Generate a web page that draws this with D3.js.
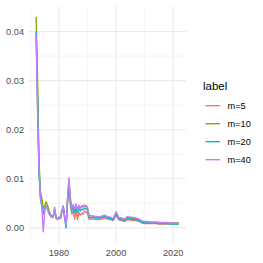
<!DOCTYPE html>
<html>
<head>
<meta charset="utf-8">
<script src="https://cdn.jsdelivr.net/npm/d3@7"></script>
<style>
body { margin: 0; background: #fff; }
text { font-family: "Liberation Sans", Arial, sans-serif; }
</style>
</head>
<body>
<div id="chart"></div>
<script>
var times = [1972.0, 1972.5, 1973.0, 1973.5, 1974.0, 1974.5, 1975.0, 1975.5, 1976.0, 1976.5,
    1977.0, 1977.5, 1978.0, 1978.5, 1979.0, 1979.5, 1980.0, 1980.5, 1981.0, 1981.5,
    1982.0, 1982.5, 1983.0, 1983.5, 1984.0, 1984.5, 1985.0, 1985.5, 1986.0, 1986.5,
    1987.0, 1987.5, 1988.0, 1988.5, 1989.0, 1989.5, 1990.0, 1990.5,
    1991, 1992, 1993, 1994, 1995, 1996, 1997, 1998, 1999, 2000, 2001, 2002, 2003, 2004,
    2005, 2006, 2007, 2008, 2009, 2010, 2011, 2012, 2013, 2014, 2015, 2016, 2017, 2018,
    2019, 2020, 2021, 2022];

var m5 = [0.0398, 0.0250, 0.0120, 0.0065, 0.0045, 0.0030, 0.0038, 0.0045, 0.0038, 0.0030,
    0.0025, 0.0022, 0.0023, 0.0035, 0.0020, 0.0018, 0.0021, 0.0019, 0.0032, 0.0042,
    0.0021, 0.0006, 0.0050, 0.0085, 0.0045, 0.0028, 0.0034, 0.0018, 0.0035, 0.0017,
    0.0032, 0.0026, 0.0030, 0.0028, 0.0034, 0.0032, 0.0030, 0.0018,
    0.0018, 0.0018, 0.0017, 0.0017, 0.0018, 0.0020, 0.0018, 0.0017, 0.0015, 0.0026,
    0.0016, 0.0015, 0.0013, 0.0017, 0.0016, 0.0015, 0.0015, 0.0013, 0.0010, 0.0009,
    0.0009, 0.0009, 0.0009, 0.0009, 0.0008, 0.0008, 0.0008, 0.0008, 0.0008, 0.0008,
    0.0008, 0.0008];
var m10 = [0.0430, 0.0300, 0.0137, 0.0075, 0.0060, 0.0040, 0.0045, 0.0053, 0.0046, 0.0036,
    0.0028, 0.0024, 0.0024, 0.0038, 0.0021, 0.0019, 0.0022, 0.0020, 0.0034, 0.0044,
    0.0022, 0.0004, 0.0058, 0.0098, 0.0058, 0.0040, 0.0045, 0.0036, 0.0046, 0.0036,
    0.0044, 0.0040, 0.0045, 0.0044, 0.0046, 0.0045, 0.0042, 0.0026,
    0.0025, 0.0024, 0.0023, 0.0022, 0.0023, 0.0025, 0.0022, 0.0021, 0.0018, 0.0031,
    0.0020, 0.0019, 0.0017, 0.0021, 0.0020, 0.0019, 0.0019, 0.0017, 0.0013, 0.0012,
    0.0012, 0.0011, 0.0011, 0.0011, 0.0011, 0.0010, 0.0010, 0.0010, 0.0010, 0.0010,
    0.0010, 0.0010];
var m20 = [0.0400, 0.0270, 0.0110, 0.0060, 0.0045, 0.0028, 0.0036, 0.0045, 0.0038, 0.0030,
    0.0025, 0.0021, 0.0022, 0.0036, 0.0019, 0.0017, 0.0020, 0.0019, 0.0033, 0.0043,
    0.0020, 0.0000, 0.0055, 0.0090, 0.0052, 0.0035, 0.0040, 0.0030, 0.0041, 0.0031,
    0.0039, 0.0035, 0.0038, 0.0037, 0.0040, 0.0039, 0.0036, 0.0022,
    0.0021, 0.0021, 0.0020, 0.0020, 0.0021, 0.0023, 0.0020, 0.0019, 0.0016, 0.0028,
    0.0018, 0.0017, 0.0015, 0.0019, 0.0018, 0.0017, 0.0017, 0.0015, 0.0011, 0.0010,
    0.0010, 0.0010, 0.0010, 0.0010, 0.0009, 0.0009, 0.0009, 0.0009, 0.0008, 0.0008,
    0.0008, 0.0008];
var m40 = [0.0397, 0.0240, 0.0120, 0.0065, 0.0042, -0.0008, 0.0035, 0.0045, 0.0038, 0.0030,
    0.0025, 0.0022, 0.0024, 0.0042, 0.0020, 0.0018, 0.0022, 0.0020, 0.0035, 0.0045,
    0.0022, 0.0005, 0.0060, 0.0102, 0.0060, 0.0040, 0.0048, 0.0038, 0.0049, 0.0036,
    0.0046, 0.0040, 0.0044, 0.0042, 0.0045, 0.0044, 0.0040, 0.0026,
    0.0025, 0.0024, 0.0023, 0.0023, 0.0024, 0.0026, 0.0023, 0.0022, 0.0019, 0.0033,
    0.0021, 0.0020, 0.0018, 0.0023, 0.0022, 0.0021, 0.0020, 0.0018, 0.0014, 0.0013,
    0.0013, 0.0012, 0.0012, 0.0012, 0.0011, 0.0011, 0.0011, 0.0011, 0.0010, 0.0010,
    0.0010, 0.0010];

var labels = ["m=5", "m=10", "m=20", "m=40"];
var seriesValues = [m5, m10, m20, m40];
var colors = ["#F8766D", "#7CAE00", "#00BFC4", "#C77CFF"];
var xTicks = [1980, 2000, 2020];
var xMinor = [1970, 1990, 2010];
var yTicks = [0, 0.01, 0.02, 0.03, 0.04];
var yMinor = [0.005, 0.015, 0.025, 0.035];

var width = 263, height = 263;
var padL = 29, padR = 186, padT = 6, padB = 242.5;

var svg = d3.select("#chart").append("svg")
    .attr("width", width)
    .attr("height", height);

var x = d3.scaleLinear().domain([1969.5, 2024.5]).range([padL, padR]);
var y = d3.scaleLinear().domain([-0.00298, 0.04519]).range([padB, padT]);

var grid = svg.append("g");
grid.selectAll(".xminor").data(xMinor).enter().append("line")
    .attr("x1", d => x(d)).attr("x2", d => x(d))
    .attr("y1", padT).attr("y2", padB)
    .attr("stroke", "#EBEBEB").attr("stroke-width", 0.55);
grid.selectAll(".yminor").data(yMinor).enter().append("line")
    .attr("x1", padL).attr("x2", padR)
    .attr("y1", d => y(d)).attr("y2", d => y(d))
    .attr("stroke", "#EBEBEB").attr("stroke-width", 0.55);
grid.selectAll(".xmajor").data(xTicks).enter().append("line")
    .attr("x1", d => x(d)).attr("x2", d => x(d))
    .attr("y1", padT).attr("y2", padB)
    .attr("stroke", "#EBEBEB").attr("stroke-width", 1.1);
grid.selectAll(".ymajor").data(yTicks).enter().append("line")
    .attr("x1", padL).attr("x2", padR)
    .attr("y1", d => y(d)).attr("y2", d => y(d))
    .attr("stroke", "#EBEBEB").attr("stroke-width", 1.1);

// axis labels
svg.append("g").selectAll("text").data(yTicks).enter().append("text")
    .attr("x", padL - 5)
    .attr("y", d => y(d))
    .attr("dy", "0.35em")
    .attr("text-anchor", "end")
    .attr("font-size", 9.2)
    .attr("fill", "#4D4D4D")
    .text(d => d3.format(".2f")(d));

svg.append("g").selectAll("text").data(xTicks).enter().append("text")
    .attr("x", d => x(d))
    .attr("y", padB + 10.5)
    .attr("dy", "0.35em")
    .attr("text-anchor", "middle")
    .attr("font-size", 9.2)
    .attr("fill", "#4D4D4D")
    .text(d => d);

var line = d3.line()
    .x((d, i) => x(times[i]))
    .y(d => y(d));

svg.append("g").selectAll("path").data(seriesValues).enter().append("path")
    .attr("d", line)
    .attr("fill", "none")
    .attr("stroke", (d, i) => colors[i])
    .attr("stroke-width", 1.4)
    .attr("stroke-linejoin", "round");

// legend
var legend = svg.append("g");
legend.append("text")
    .attr("x", 203)
    .attr("y", 86)
    .attr("dy", "0.35em")
    .attr("font-size", 11.5)
    .attr("fill", "#000")
    .text("label");

var rows = legend.selectAll(".row").data(labels).enter().append("g")
    .attr("transform", (d, i) => "translate(0," + (105.7 + i * 18) + ")");
rows.append("line")
    .attr("x1", 205.5).attr("x2", 220)
    .attr("stroke", (d, i) => colors[i])
    .attr("stroke-width", 1.4);
rows.append("text")
    .attr("x", 227.5)
    .attr("dy", "0.35em")
    .attr("font-size", 9.2)
    .attr("fill", "#000")
    .text(d => d);
</script>
</body>
</html>
